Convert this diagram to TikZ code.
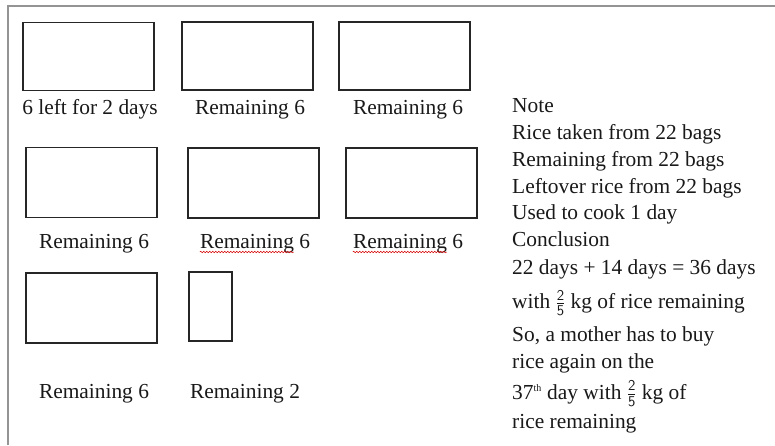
\documentclass[tikz,border=0pt]{standalone}
\usepackage{fontspec}
\setmainfont{Liberation Serif}
\usetikzlibrary{decorations.pathmorphing}
\newcommand{\fr}[2]{\(\frac{\mathsf{#1}}{\mathsf{#2}}\)}
\begin{document}
\begin{tikzpicture}[x=1pt,y=-1pt,
  bag/.style={draw=black!85, line width=1.6pt, inner sep=0pt, minimum width=131pt, minimum height=68pt},
  lbl/.style={anchor=base, inner sep=0pt, text=black!90, font=\fontsize{21.4}{25}\selectfont},
  txt/.style={anchor=base west, inner sep=0pt, text=black!90, font=\fontsize{21.4}{25}\selectfont},
  frame/.style={draw=black!42, line width=1.4pt},
  squig/.style={draw=red!85!black, line width=0.5pt, decorate, decoration={snake, segment length=3pt, amplitude=0.8pt}}]
\useasboundingbox (0,0) rectangle (775,445);
\fill[white] (0,0) rectangle (775,445);
\draw[frame] (8,445) -- (8,6) -- (775,6);
% row 1
\node[bag] (b1) at (88.4,56.3) {};
\node[bag] (b2) at (247.5,56.2) {};
\node[bag] (b3) at (404.5,56.2) {};
\node[lbl] (l1) at (90,114) {6 left for 2 days};
\node[lbl] (l2) at (250,114) {Remaining 6};
\node[lbl] (l3) at (408,114) {Remaining 6};
% row 2
\node[bag, minimum height=70pt] (b4) at (91.5,182.3) {};
\node[bag, minimum height=70pt] (b5) at (253.5,183) {};
\node[bag, minimum height=70pt] (b6) at (411.5,183) {};
\node[lbl] (l4) at (94,248) {Remaining 6};
\node[lbl] (l5) at (255,248) {Remaining 6};
\node[lbl] (l6) at (408,248) {Remaining 6};
\draw[squig] ([yshift=-4pt]l5.base west) -- ++(94,0);
\draw[squig] ([yshift=-4pt]l6.base west) -- ++(94,0);
% row 3
\node[bag, minimum height=70pt] (b7) at (91.5,308) {};
\node[bag, minimum width=43pt, minimum height=69pt] (b8) at (210.5,306.5) {};
\node[lbl] (l7) at (94,398) {Remaining 6};
\node[lbl] (l8) at (245,398) {Remaining 2};
% notes
\node[txt] (t1) at (512,112.7) {Note};
\node[txt] (t2) at (512,139.5) {Rice taken from 22 bags};
\node[txt] (t3) at (512,166.3) {Remaining from 22 bags};
\node[txt] (t4) at (512,193.1) {Leftover rice from 22 bags};
\node[txt] (t5) at (512,219.9) {Used to cook 1 day};
\node[txt] (t6) at (512,246.7) {Conclusion};
\node[txt] (t7) at (512,274.5) {22 days + 14 days = 36 days};
\node[txt] (t8) at (512,308.3) {with \fr{2}{5} kg of rice remaining};
\node[txt] (t9) at (512,341.7) {So, a mother has to buy};
\node[txt] (t10) at (512,368.3) {rice again on the};
\node[txt] (t11) at (512,399) {37\textsuperscript{\fontsize{10}{10}\selectfont th} day with \fr{2}{5} kg of};
\node[txt] (t12) at (512,428) {rice remaining};
\end{tikzpicture}
\end{document}
